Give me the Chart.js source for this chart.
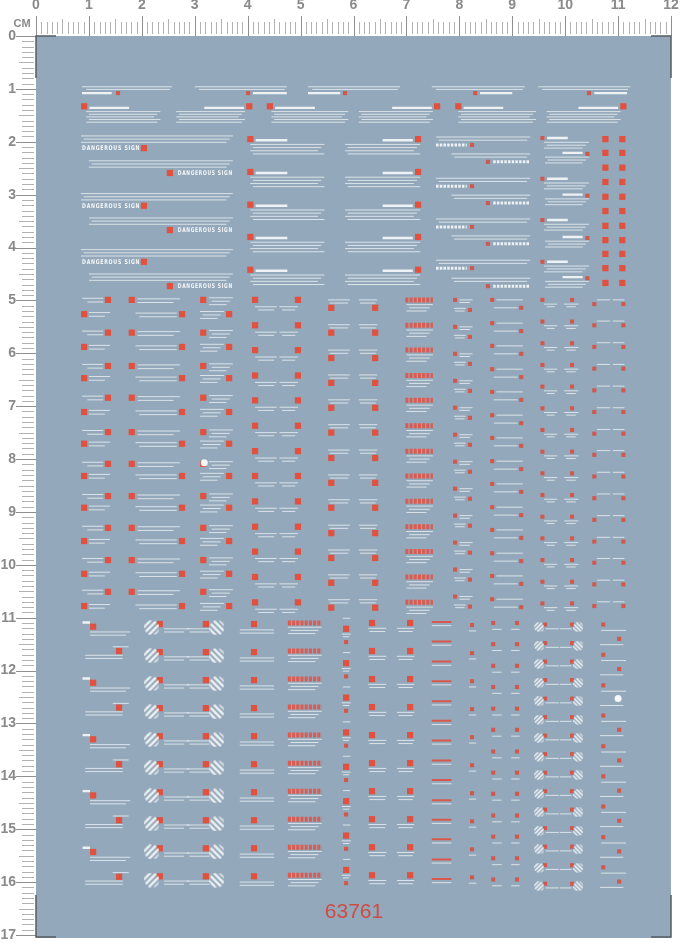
<!DOCTYPE html>
<html>
<head>
<meta charset="utf-8">
<script src="https://cdn.jsdelivr.net/npm/chart.js@4.4.1/dist/chart.umd.min.js"></script>
<style>
html, body { margin: 0; padding: 0; background: #fff; }
canvas { display: block; }
</style>
</head>
<body>
<canvas id="sheet" width="681" height="943"></canvas>
<script>
// all positions in cm

// top strip (~1 cm)
const stripSpans = [[0.87, 2.57], [3.0, 4.74], [5.14, 6.88], [7.48, 9.24], [9.49, 11.23]]
const stripBars = [[0.87, 1.43], [4.1, 4.74], [5.14, 5.75], [8.39, 9.0], [10.55, 11.17]]
const stripReds = [1.55, 4.01, 5.84, 8.3, 10.45]

// header blocks (~1.35 cm)
const headSpans = [[0.95, 2.35], [2.65, 3.95], [4.45, 5.9], [6.1, 7.5], [7.98, 9.45], [9.65, 11.05]]
const headReds = [0.91, 4.03, 4.42, 7.58, 7.98, 11.1]

// "DANGEROUS SIGN" rows
const signText = 'DANGEROUS SIGN'
const signRowsL = [2.12, 3.21, 4.27]
const signRowsR = [2.59, 3.67, 4.73]

const midRows = [1.95, 2.57, 3.19, 3.80, 4.42]
const arrowRowsA = [2.06, 2.84, 3.61, 4.39]
const arrowRowsB = [2.38, 3.16, 3.93, 4.73]
const tagRowsA = [1.93, 2.70, 3.48, 4.27]
const tagRowsB = [2.23, 3.02, 3.82, 4.58]
const dotColsX = [10.76, 11.08]
const dotRowsY = [1.95, 2.21, 2.49, 2.76, 3.04, 3.31, 3.59, 3.86, 4.12, 4.39, 4.67]

// middle block (5 - 11 cm)
const bRowsA = [4.99, 5.61, 6.24, 6.84, 7.49, 8.09, 8.70, 9.30, 9.91, 10.51]
const bRowsB = [5.26, 5.88, 6.47, 7.11, 7.71, 8.32, 8.92, 9.55, 10.17, 10.78]
const bRowsC = [4.99, 5.47, 5.94, 6.42, 6.89, 7.37, 7.85, 8.32, 8.80, 9.28, 9.75, 10.23, 10.71]
const bRowsD = [5.14, 5.61, 6.09, 6.56, 7.03, 7.50, 7.98, 8.45, 8.92, 9.40, 9.87, 10.34, 10.81]
const bRowsE = [4.99, 5.50, 6.01, 6.52, 7.03, 7.54, 8.05, 8.56, 9.07, 9.58, 10.09, 10.60]
const bRowsF = [4.99, 5.43, 5.86, 6.30, 6.73, 7.17, 7.60, 8.04, 8.47, 8.91, 9.34, 9.78, 10.21, 10.65]
const bRowsG = [4.99, 5.40, 5.81, 6.22, 6.63, 7.04, 7.45, 7.86, 8.27, 8.68, 9.09, 9.50, 9.91, 10.32, 10.73]
const bRowsH = [5.07, 5.47, 5.88, 6.29, 6.70, 7.11, 7.52, 7.92, 8.33, 8.74, 9.15, 9.56, 9.96, 10.37, 10.78]

// bottom block (11 - 16 cm)
const cRowsL = [11.17, 12.23, 13.30, 14.36, 15.43]
const cRowsR = [11.63, 12.70, 13.77, 14.83, 15.90]
const cRowsI = [11.19, 11.72, 12.25, 12.78, 13.31, 13.84, 14.37, 14.90, 15.43, 15.96]
const cRowsJ = [11.21, 11.86, 12.51, 13.17, 13.82, 14.47, 15.12, 15.77]
const cRowsK = [11.08, 11.45, 11.83, 12.20, 12.58, 12.95, 13.32, 13.70, 14.07, 14.45, 14.82, 15.19, 15.57, 15.94]
const cRowsP = [11.10, 11.50, 11.91, 12.31, 12.72, 13.12, 13.53, 13.93, 14.33, 14.74, 15.14, 15.55, 15.95]
const cRowsM = [11.13, 11.48, 11.83, 12.18, 12.53, 12.88, 13.23, 13.58, 13.93, 14.28, 14.63, 14.98, 15.33, 15.68, 16.03]
const cRowsN = [11.13, 11.70, 12.28, 12.85, 13.43, 14.00, 14.57, 15.15, 15.72]
const whiteDots = [[3.18, 8.07], [11.0, 12.53]]
const sheetNo = '63761'

var thin = [], bold = [], dash = [], band = [], redLine = []
var reds = [], smallReds = [], dots = []
var stripeA = [], stripeB = [], stripeSA = [], stripeSB = []
var signs = []

function seg(list, x0, x1, y) {
    list.push({x: x0, y: y}, {x: x1, y: y}, {x: x1, y: null})
}
function lines(x0, x1, y, n, step) {
    for (let k = 0; k < n; k++) seg(thin, x0 + (k % 2) * 0.05, x1 - (k % 3) * 0.06, y + k * step)
}

// --- top section
stripSpans.forEach((s, i) => {
    seg(thin, s[0], s[1], 0.96)
    seg(thin, s[0] + 0.08, s[1] - 0.04, 1.01)
    seg(bold, stripBars[i][0], stripBars[i][1], 1.08)
    smallReds.push({x: stripReds[i], y: 1.08})
})
headSpans.forEach((s, i) => {
    const r = headReds[i]
    reds.push({x: r, y: 1.33})
    if (Math.abs(r - s[0]) < Math.abs(r - s[1])) seg(bold, r + 0.1, r + 0.85, 1.36)
    else seg(bold, r - 0.85, r - 0.1, 1.36)
    lines(s[0], s[1], 1.43, 5, 0.05)
})
signRowsL.forEach(y => {
    lines(0.85, 3.72, y - 0.23, 3, 0.06)
    reds.push({x: 2.04, y: y})
    signs.push({x: 0.87, y: y, w: 1.1})
})
signRowsR.forEach(y => {
    lines(1.0, 3.72, y - 0.23, 3, 0.06)
    reds.push({x: 2.53, y: y})
    signs.push({x: 2.68, y: y, w: 1.04})
})
midRows.forEach(y => {
    reds.push({x: 4.05, y: y}, {x: 7.22, y: y})
    seg(bold, 4.15, 4.75, y + 0.02)
    lines(4.05, 5.45, y + 0.1, 4, 0.06)
    seg(bold, 6.55, 7.12, y + 0.02)
    lines(5.84, 7.26, y + 0.1, 4, 0.06)
})
arrowRowsA.forEach(y => {
    lines(7.56, 9.34, y - 0.15, 2, 0.06)
    smallReds.push({x: 8.24, y: y})
    seg(dash, 7.56, 8.14, y)
})
arrowRowsB.forEach(y => {
    lines(7.85, 9.34, y - 0.15, 2, 0.06)
    smallReds.push({x: 8.54, y: y})
    seg(dash, 8.64, 9.34, y)
})
tagRowsA.forEach(y => {
    smallReds.push({x: 9.57, y: y})
    seg(bold, 9.66, 10.05, y)
    lines(9.6, 10.45, y + 0.08, 3, 0.055)
})
tagRowsB.forEach(y => {
    smallReds.push({x: 10.42, y: y})
    seg(bold, 9.95, 10.33, y - 0.02)
    lines(9.62, 10.45, y + 0.06, 3, 0.055)
})
dotColsX.forEach(x => dotRowsY.forEach(y => reds.push({x: x, y: y})))

// --- middle section
bRowsA.forEach(y => {
    reds.push({x: 1.36, y: y}, {x: 1.81, y: y}, {x: 3.16, y: y})
    seg(thin, 0.87, 1.27, y - 0.03); seg(thin, 0.97, 1.27, y + 0.04)
    seg(thin, 1.92, 2.72, y - 0.02); seg(thin, 1.92, 2.6, y + 0.05)
    lines(3.27, 3.72, y - 0.04, 3, 0.065)
})
bRowsB.forEach(y => {
    reds.push({x: 0.91, y: y}, {x: 2.76, y: y}, {x: 3.65, y: y})
    seg(thin, 1.0, 1.4, y - 0.03); seg(thin, 1.0, 1.3, y + 0.04)
    seg(thin, 1.88, 2.66, y - 0.02); seg(thin, 1.95, 2.66, y + 0.05)
    lines(3.1, 3.55, y - 0.05, 3, 0.065)
})
bRowsC.forEach(y => {
    reds.push({x: 4.14, y: y}, {x: 4.95, y: y})
    seg(thin, 4.14, 4.55, y + 0.13); seg(thin, 4.2, 4.5, y + 0.19)
    seg(thin, 4.6, 4.95, y + 0.13); seg(thin, 4.65, 4.9, y + 0.19)
    seg(band, 6.98, 7.5, y)
    lines(7.0, 7.5, y + 0.09, 3, 0.06)
})
bRowsD.forEach(y => {
    reds.push({x: 5.58, y: y}, {x: 6.41, y: y})
    seg(thin, 5.52, 5.93, y - 0.15); seg(thin, 5.55, 5.9, y - 0.09)
    seg(thin, 6.1, 6.45, y - 0.15); seg(thin, 6.12, 6.42, y - 0.09)
})
bRowsE.forEach(y => {
    smallReds.push({x: 7.92, y: y}, {x: 8.2, y: y + 0.19})
    seg(thin, 8.0, 8.25, y); seg(thin, 8.0, 8.2, y + 0.05)
    seg(thin, 7.9, 8.12, y + 0.16); seg(thin, 7.92, 8.1, y + 0.21)
})
bRowsF.forEach(y => {
    smallReds.push({x: 8.62, y: y}, {x: 9.17, y: y + 0.15})
    seg(thin, 8.7, 9.2, y)
    seg(thin, 8.65, 9.1, y + 0.15)
})
bRowsG.forEach(y => {
    smallReds.push({x: 9.57, y: y}, {x: 10.13, y: y})
    seg(thin, 9.6, 9.85, y + 0.08); seg(thin, 9.65, 9.8, y + 0.13)
    seg(thin, 9.98, 10.25, y + 0.08); seg(thin, 10.02, 10.2, y + 0.13)
})
bRowsH.forEach(y => {
    smallReds.push({x: 10.55, y: y}, {x: 11.1, y: y})
    seg(thin, 10.6, 10.85, y - 0.08)
    seg(thin, 10.9, 11.12, y - 0.08)
})

// --- bottom section
cRowsL.forEach(y => {
    reds.push({x: 1.08, y: y})
    seg(bold, 0.88, 1.02, y - 0.08)
    seg(thin, 1.02, 1.78, y + 0.1); seg(thin, 1.02, 1.7, y + 0.16)
})
cRowsR.forEach(y => {
    reds.push({x: 1.57, y: y})
    seg(thin, 1.45, 1.75, y - 0.08)
    seg(thin, 0.93, 1.64, y + 0.08); seg(thin, 0.93, 1.64, y + 0.14)
})
cRowsI.forEach(y => {
    stripeA.push({x: 2.19, y: y})
    reds.push({x: 2.34, y: y - 0.07})
    seg(thin, 2.42, 2.9, y + 0.02); seg(thin, 2.42, 2.8, y + 0.08)
    reds.push({x: 3.21, y: y - 0.07})
    stripeB.push({x: 3.42, y: y})
    seg(thin, 2.85, 3.28, y + 0.02); seg(thin, 2.9, 3.28, y + 0.08)
    reds.push({x: 4.12, y: y - 0.07})
    seg(thin, 3.85, 4.5, y + 0.04); seg(thin, 3.85, 4.5, y + 0.1)
    seg(band, 4.76, 5.4, y - 0.09)
    lines(4.76, 5.4, y - 0.01, 3, 0.06)
    reds.push({x: 6.35, y: y - 0.09})
    seg(thin, 6.28, 6.62, y + 0.01); seg(thin, 6.3, 6.6, y + 0.07)
    reds.push({x: 7.07, y: y - 0.09})
    seg(thin, 6.82, 7.15, y + 0.01); seg(thin, 6.85, 7.12, y + 0.07)
    smallReds.push({x: 8.24, y: y - 0.05})
    seg(thin, 8.18, 8.32, y + 0.06)
})
cRowsJ.forEach(y => {
    seg(thin, 5.8, 5.94, y - 0.2)
    reds.push({x: 5.86, y: y})
    seg(thin, 5.78, 5.95, y + 0.1); seg(thin, 5.8, 5.92, y + 0.15)
    smallReds.push({x: 5.86, y: y + 0.25})
})
cRowsK.forEach(y => {
    seg(redLine, 7.48, 7.85, y)
    seg(thin, 7.48, 7.85, y + 0.07)
})
cRowsP.forEach(y => {
    smallReds.push({x: 8.64, y: y}, {x: 9.09, y: y})
    seg(thin, 8.62, 8.8, y + 0.12); seg(thin, 8.98, 9.14, y + 0.12)
})
cRowsM.forEach(y => {
    stripeSA.push({x: 9.51, y: y + 0.05})
    stripeSB.push({x: 10.25, y: y + 0.05})
    smallReds.push({x: 9.62, y: y}, {x: 10.13, y: y})
    seg(thin, 9.63, 9.88, y + 0.08); seg(thin, 9.9, 10.12, y + 0.08)
})
cRowsN.forEach((y, i) => {
    smallReds.push({x: 10.72, y: y})
    seg(thin, 10.68, 11.15, y + 0.11)
    if (i !== 2) smallReds.push({x: 11.02, y: y + 0.27})
    seg(thin, 10.66, 11.1, y + 0.38)
})
whiteDots.forEach(d => dots.push({x: d[0], y: d[1]}))

// hazard stripe icons used as point styles
function stripeIcon(size, flip) {
    var c = document.createElement('canvas')
    c.width = c.height = size
    var g = c.getContext('2d')
    g.beginPath()
    g.arc(size / 2, size / 2, size / 2, 0, Math.PI * 2)
    g.clip()
    g.strokeStyle = '#f3f6f8'
    g.lineWidth = size * 0.16
    for (let k = -size; k < 2 * size; k += size * 0.42) {
        g.beginPath()
        if (flip) { g.moveTo(k, 0); g.lineTo(k + size, size) }
        else { g.moveTo(k, size); g.lineTo(k + size, 0) }
        g.stroke()
    }
    return c
}

const RED = '#e0523f'
const WHITE_LINE = 'rgba(236,241,245,0.8)'

function pts(data, style, r, color) {
    return {type: 'scatter', data: data, pointStyle: style, pointRadius: r, pointBorderWidth: 0,
        pointBackgroundColor: color, pointBorderColor: color}
}
function strokes(data, width, color, dashes) {
    return {type: 'line', data: data, borderColor: color, borderWidth: width, borderDash: dashes || [],
        pointRadius: 0, spanGaps: false, tension: 0, fill: false}
}

const sheetPlugin = {
    id: 'sheet',
    beforeDatasetsDraw(chart) {
        const {ctx, chartArea: a} = chart
        ctx.save()
        ctx.fillStyle = '#93a8ba'
        ctx.fillRect(a.left, a.top, a.right - a.left, a.bottom - a.top + 3)
        ctx.restore()
    },
    afterDraw(chart) {
        const {ctx, chartArea: a} = chart
        const xs = chart.scales.x, ys = chart.scales.y
        ctx.save()
        // ruler marks
        ctx.lineWidth = 1
        for (let mm = 0; mm <= 120; mm++) {
            const px = Math.round(xs.getPixelForValue(mm / 10)) + 0.5
            const major = mm % 10 === 0, half = mm % 5 === 0
            ctx.strokeStyle = major ? '#8f8f8f' : '#b2b2b2'
            ctx.beginPath()
            ctx.moveTo(px, major ? 16 : half ? 19 : 22)
            ctx.lineTo(px, major ? 36 : 34)
            ctx.stroke()
        }
        for (let mm = 0; mm <= 170; mm++) {
            const py = Math.round(ys.getPixelForValue(mm / 10)) + 0.5
            const major = mm % 10 === 0, half = mm % 5 === 0
            ctx.strokeStyle = major ? '#8f8f8f' : '#b2b2b2'
            ctx.beginPath()
            ctx.moveTo(major ? 16 : half ? 19 : 22, py)
            ctx.lineTo(major ? 36 : 34, py)
            ctx.stroke()
        }
        ctx.fillStyle = '#8a8a8a'
        ctx.font = 'bold 11px "Liberation Sans", Arial, sans-serif'
        ctx.textAlign = 'center'
        ctx.textBaseline = 'middle'
        ctx.fillText('CM', 22, 24)

        // corner marks
        ctx.strokeStyle = '#555c63'
        ctx.lineWidth = 1.5
        const corners = [[a.left, a.top, 1, 1], [a.right, a.top, -1, 1], [a.left, a.bottom + 2, 1, -1], [a.right, a.bottom + 2, -1, -1]]
        corners.forEach(c => {
            ctx.beginPath()
            ctx.moveTo(c[0] + c[2] * 20, c[1])
            ctx.lineTo(c[0], c[1])
            ctx.lineTo(c[0], c[1] + c[3] * 42)
            ctx.stroke()
        })

        // DANGEROUS SIGN labels
        ctx.fillStyle = '#f4f7f9'
        ctx.font = 'bold 6.5px "DejaVu Sans", sans-serif'
        ctx.textAlign = 'left'
        ctx.letterSpacing = '1px'
        signs.forEach(s => {
            const x0 = xs.getPixelForValue(s.x)
            const w = xs.getPixelForValue(s.x + s.w) - x0
            ctx.fillText(signText, x0, ys.getPixelForValue(s.y) + 0.5, w)
        })
        ctx.letterSpacing = '0px'

        // sheet number
        ctx.fillStyle = '#cf4b45'
        ctx.font = '21px "Liberation Sans", Arial, sans-serif'
        ctx.textAlign = 'center'
        ctx.fillText(sheetNo, xs.getPixelForValue(6.01), ys.getPixelForValue(16.56))
        ctx.restore()
    }
}

var axisFont = {family: '"Liberation Sans", Arial, sans-serif', size: 14, weight: 'bold'}

new Chart(document.getElementById('sheet').getContext('2d'), {
    type: 'scatter',
    data: {
        datasets: [
            pts(dots, 'circle', 3.5, '#f5f7f9'),
            pts(stripeA, stripeIcon(15, false), 7, '#fff'),
            pts(stripeB, stripeIcon(15, true), 7, '#fff'),
            pts(stripeSA, stripeIcon(10, false), 4, '#fff'),
            pts(stripeSB, stripeIcon(10, true), 4, '#fff'),
            pts(reds, 'rect', 4.4, RED),
            pts(smallReds, 'rect', 2.9, '#d0584c'),
            strokes(redLine, 2, '#d9584c'),
            strokes(band, 5, '#dc5a50', [3, 1.2]),
            strokes(dash, 3, '#eef2f5', [2.5, 1.2]),
            strokes(bold, 2.4, '#eef2f5'),
            strokes(thin, 1, WHITE_LINE)
        ]
    },
    options: {
        responsive: false,
        animation: false,
        events: [],
        layout: {padding: {top: 0, left: 0, right: 10, bottom: 8}},
        plugins: {legend: {display: false}, tooltip: {enabled: false}},
        scales: {
            x: {
                type: 'linear', position: 'top', min: 0, max: 12,
                afterFit: s => { s.height = 36; s.paddingLeft = 0; s.paddingRight = 0 },
                ticks: {stepSize: 1, padding: 22, color: '#8a8a8a', font: axisFont, maxRotation: 0, autoSkip: false},
                grid: {display: false, drawTicks: false},
                border: {display: false}
            },
            y: {
                type: 'linear', reverse: true, min: 0, max: 17,
                afterFit: s => { s.width = 36; s.paddingTop = 0; s.paddingBottom = 0 },
                ticks: {stepSize: 1, padding: 20, color: '#8a8a8a', font: axisFont, autoSkip: false},
                grid: {display: false, drawTicks: false},
                border: {display: false}
            }
        }
    },
    plugins: [sheetPlugin]
})
</script>
</body>
</html>
